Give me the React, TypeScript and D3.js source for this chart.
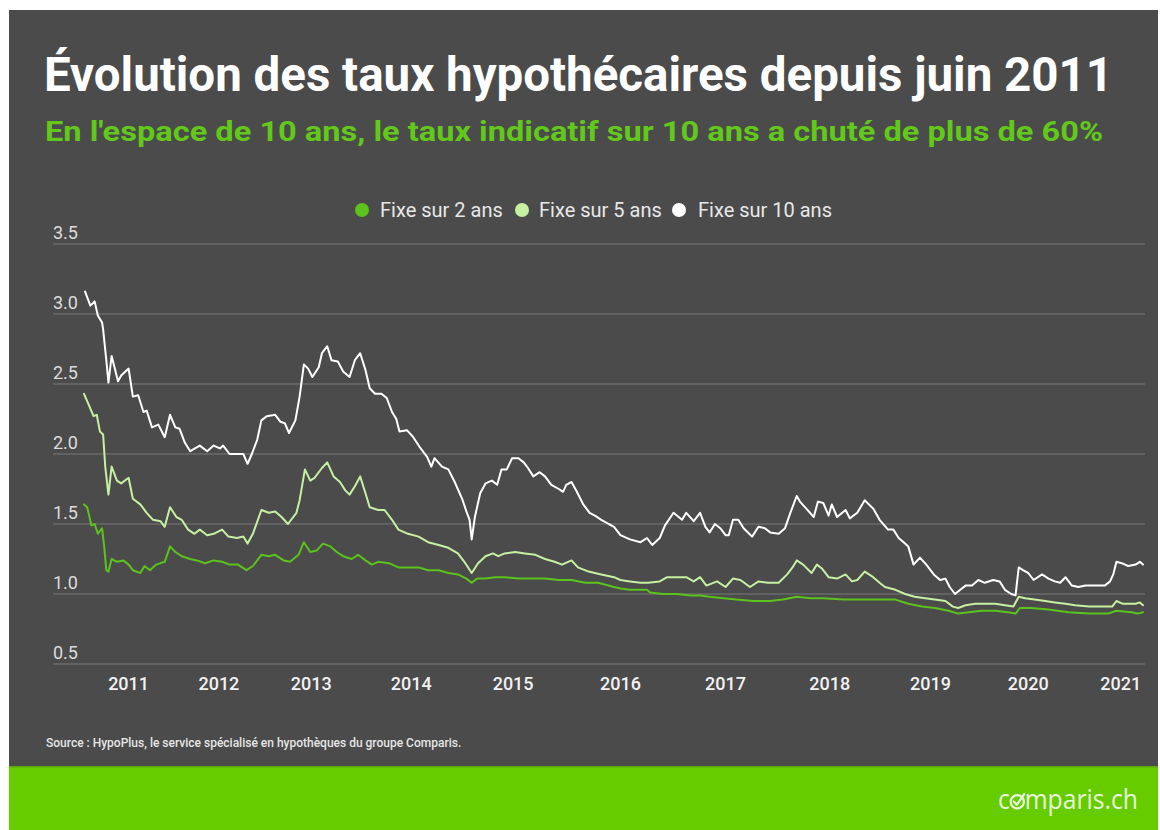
import React, { useRef, useLayoutEffect, useState } from 'react';
import * as d3 from 'd3';

// ---------- DATA ----------
const seriesNames = ['Fixe sur 2 ans', 'Fixe sur 5 ans', 'Fixe sur 10 ans'];
const seriesColors = ['#5cc21c', '#c6f0a2', '#ffffff'];

const yTicks = [0.5, 1.0, 1.5, 2.0, 2.5, 3.0, 3.5];
const xTickLabels = ['2011', '2012', '2013', '2014', '2015', '2016', '2017', '2018', '2019', '2020', '2021'];
// decimal-year positions where the year labels sit
const xTickPositions = [2011.84, 2012.69, 2013.56, 2014.5, 2015.46, 2016.47, 2017.46, 2018.44, 2019.39, 2020.31, 2021.18];

// [decimal year, rate %]
const fixe2: [number, number][] = [
  [2011.42, 1.64], [2011.45, 1.62], [2011.49, 1.49], [2011.52, 1.5], [2011.55, 1.43], [2011.59, 1.47],
  [2011.61, 1.34], [2011.63, 1.17], [2011.65, 1.16], [2011.68, 1.25], [2011.73, 1.23], [2011.79, 1.24],
  [2011.84, 1.21], [2011.88, 1.17], [2011.95, 1.15], [2011.99, 1.2], [2012.04, 1.17], [2012.1, 1.21],
  [2012.18, 1.23], [2012.23, 1.34], [2012.28, 1.3], [2012.34, 1.27], [2012.42, 1.25], [2012.48, 1.24],
  [2012.56, 1.22], [2012.64, 1.24], [2012.72, 1.23], [2012.79, 1.21], [2012.87, 1.21], [2012.95, 1.17],
  [2013.01, 1.2], [2013.09, 1.28], [2013.16, 1.27], [2013.22, 1.28], [2013.3, 1.24], [2013.36, 1.23],
  [2013.44, 1.28], [2013.49, 1.37], [2013.55, 1.3], [2013.61, 1.31], [2013.67, 1.36], [2013.74, 1.34],
  [2013.8, 1.3], [2013.86, 1.27], [2013.94, 1.25], [2014.0, 1.28], [2014.07, 1.24], [2014.13, 1.21],
  [2014.19, 1.23], [2014.29, 1.22], [2014.38, 1.19], [2014.47, 1.19], [2014.57, 1.19], [2014.66, 1.17],
  [2014.76, 1.17], [2014.85, 1.15], [2014.94, 1.14], [2015.02, 1.11], [2015.07, 1.08], [2015.12, 1.11],
  [2015.2, 1.11], [2015.29, 1.12], [2015.38, 1.12], [2015.51, 1.11], [2015.64, 1.11], [2015.76, 1.11],
  [2015.89, 1.1], [2016.01, 1.1], [2016.14, 1.08], [2016.26, 1.08], [2016.41, 1.05], [2016.47, 1.04],
  [2016.56, 1.03], [2016.72, 1.03], [2016.75, 1.01], [2016.87, 1.0], [2017.0, 1.0], [2017.13, 0.99],
  [2017.22, 0.99], [2017.31, 0.98], [2017.44, 0.97], [2017.56, 0.96], [2017.72, 0.95], [2017.88, 0.95],
  [2018.0, 0.96], [2018.13, 0.98], [2018.26, 0.97], [2018.38, 0.97], [2018.57, 0.96], [2018.76, 0.96],
  [2018.91, 0.96], [2019.06, 0.96], [2019.18, 0.93], [2019.31, 0.91], [2019.43, 0.9], [2019.56, 0.88],
  [2019.65, 0.86], [2019.75, 0.87], [2019.87, 0.88], [2020.0, 0.88], [2020.12, 0.87], [2020.19, 0.86],
  [2020.23, 0.9], [2020.34, 0.9], [2020.5, 0.89], [2020.69, 0.87], [2020.88, 0.86], [2021.06, 0.86],
  [2021.14, 0.88], [2021.28, 0.87], [2021.34, 0.86], [2021.39, 0.87],
];

const fixe5: [number, number][] = [
  [2011.42, 2.43], [2011.46, 2.36], [2011.51, 2.27], [2011.54, 2.28], [2011.57, 2.16], [2011.6, 2.14],
  [2011.62, 1.91], [2011.65, 1.71], [2011.68, 1.91], [2011.73, 1.81], [2011.77, 1.79], [2011.84, 1.83],
  [2011.88, 1.68], [2011.95, 1.64], [2012.01, 1.58], [2012.07, 1.53], [2012.14, 1.52], [2012.18, 1.48],
  [2012.23, 1.62], [2012.29, 1.55], [2012.34, 1.53], [2012.4, 1.46], [2012.46, 1.43], [2012.51, 1.46],
  [2012.58, 1.42], [2012.64, 1.43], [2012.72, 1.46], [2012.78, 1.41], [2012.86, 1.4], [2012.92, 1.41],
  [2012.96, 1.36], [2013.01, 1.43], [2013.09, 1.6], [2013.16, 1.58], [2013.22, 1.59], [2013.28, 1.55],
  [2013.34, 1.5], [2013.42, 1.58], [2013.45, 1.67], [2013.5, 1.89], [2013.55, 1.81], [2013.59, 1.83],
  [2013.66, 1.9], [2013.71, 1.94], [2013.77, 1.84], [2013.83, 1.8], [2013.88, 1.74], [2013.92, 1.71],
  [2013.97, 1.77], [2014.02, 1.84], [2014.07, 1.72], [2014.11, 1.62], [2014.19, 1.6], [2014.25, 1.6],
  [2014.32, 1.53], [2014.38, 1.46], [2014.47, 1.43], [2014.57, 1.41], [2014.66, 1.37], [2014.76, 1.35],
  [2014.85, 1.33], [2014.94, 1.29], [2015.01, 1.22], [2015.07, 1.15], [2015.13, 1.22], [2015.2, 1.27],
  [2015.27, 1.29], [2015.32, 1.27], [2015.38, 1.29], [2015.48, 1.3], [2015.57, 1.29], [2015.67, 1.28],
  [2015.76, 1.25], [2015.85, 1.23], [2015.92, 1.21], [2016.01, 1.24], [2016.07, 1.19], [2016.17, 1.16],
  [2016.29, 1.14], [2016.41, 1.12], [2016.47, 1.1], [2016.56, 1.09], [2016.66, 1.08], [2016.73, 1.08],
  [2016.84, 1.09], [2016.91, 1.12], [2017.0, 1.12], [2017.09, 1.12], [2017.16, 1.09], [2017.22, 1.12],
  [2017.28, 1.06], [2017.38, 1.09], [2017.46, 1.05], [2017.53, 1.11], [2017.6, 1.1], [2017.69, 1.05],
  [2017.77, 1.09], [2017.86, 1.08], [2017.96, 1.08], [2018.04, 1.14], [2018.09, 1.19], [2018.13, 1.24],
  [2018.19, 1.21], [2018.27, 1.15], [2018.32, 1.21], [2018.37, 1.18], [2018.43, 1.12], [2018.51, 1.11],
  [2018.59, 1.14], [2018.65, 1.09], [2018.7, 1.1], [2018.77, 1.16], [2018.85, 1.12], [2018.91, 1.08],
  [2018.96, 1.05], [2019.06, 1.03], [2019.15, 1.0], [2019.24, 0.98], [2019.34, 0.97], [2019.43, 0.96],
  [2019.53, 0.95], [2019.6, 0.91], [2019.65, 0.9], [2019.72, 0.92], [2019.81, 0.93], [2019.9, 0.93],
  [2020.0, 0.93], [2020.09, 0.92], [2020.17, 0.91], [2020.22, 0.98], [2020.28, 0.97], [2020.37, 0.96],
  [2020.47, 0.95], [2020.56, 0.94], [2020.66, 0.93], [2020.75, 0.92], [2020.88, 0.91], [2021.0, 0.91],
  [2021.1, 0.91], [2021.14, 0.95], [2021.2, 0.93], [2021.32, 0.93], [2021.36, 0.94], [2021.39, 0.92],
];

const fixe10: [number, number][] = [
  [2011.43, 3.16], [2011.48, 3.06], [2011.52, 3.09], [2011.55, 2.99], [2011.59, 2.94], [2011.6, 2.89],
  [2011.63, 2.67], [2011.65, 2.51], [2011.68, 2.7], [2011.71, 2.61], [2011.74, 2.52], [2011.77, 2.56],
  [2011.84, 2.61], [2011.88, 2.41], [2011.93, 2.42], [2011.98, 2.3], [2012.01, 2.31], [2012.06, 2.19],
  [2012.12, 2.21], [2012.18, 2.12], [2012.23, 2.28], [2012.28, 2.19], [2012.32, 2.18], [2012.37, 2.08],
  [2012.42, 2.02], [2012.51, 2.06], [2012.58, 2.02], [2012.64, 2.06], [2012.7, 2.04], [2012.73, 2.06],
  [2012.79, 2.0], [2012.86, 2.0], [2012.92, 2.0], [2012.96, 1.93], [2013.0, 2.0], [2013.05, 2.1],
  [2013.09, 2.24], [2013.14, 2.27], [2013.22, 2.28], [2013.27, 2.23], [2013.31, 2.22], [2013.35, 2.15],
  [2013.41, 2.24], [2013.45, 2.41], [2013.49, 2.64], [2013.53, 2.61], [2013.57, 2.55], [2013.63, 2.62],
  [2013.66, 2.72], [2013.71, 2.77], [2013.75, 2.67], [2013.81, 2.66], [2013.86, 2.59], [2013.92, 2.55],
  [2013.97, 2.67], [2014.02, 2.72], [2014.07, 2.6], [2014.11, 2.47], [2014.16, 2.43], [2014.22, 2.43],
  [2014.27, 2.4], [2014.32, 2.3], [2014.36, 2.25], [2014.39, 2.16], [2014.46, 2.17], [2014.52, 2.12],
  [2014.58, 2.05], [2014.65, 1.98], [2014.69, 1.91], [2014.72, 1.97], [2014.79, 1.91], [2014.85, 1.89],
  [2014.91, 1.8], [2014.98, 1.68], [2015.02, 1.59], [2015.05, 1.53], [2015.07, 1.39], [2015.1, 1.55],
  [2015.15, 1.72], [2015.2, 1.79], [2015.26, 1.81], [2015.31, 1.78], [2015.35, 1.89], [2015.4, 1.89],
  [2015.45, 1.97], [2015.51, 1.97], [2015.56, 1.94], [2015.6, 1.9], [2015.65, 1.84], [2015.71, 1.87],
  [2015.76, 1.84], [2015.82, 1.78], [2015.89, 1.75], [2015.93, 1.73], [2015.96, 1.78], [2016.01, 1.8],
  [2016.06, 1.73], [2016.12, 1.64], [2016.18, 1.58], [2016.23, 1.56], [2016.29, 1.53], [2016.36, 1.5],
  [2016.41, 1.48], [2016.47, 1.42], [2016.56, 1.39], [2016.66, 1.37], [2016.72, 1.4], [2016.77, 1.35],
  [2016.84, 1.4], [2016.89, 1.49], [2016.97, 1.58], [2017.05, 1.53], [2017.09, 1.58], [2017.16, 1.52],
  [2017.22, 1.58], [2017.27, 1.48], [2017.31, 1.44], [2017.36, 1.5], [2017.41, 1.47], [2017.46, 1.42],
  [2017.49, 1.42], [2017.53, 1.53], [2017.58, 1.53], [2017.63, 1.47], [2017.71, 1.41], [2017.77, 1.48],
  [2017.83, 1.47], [2017.88, 1.44], [2017.96, 1.43], [2018.02, 1.47], [2018.07, 1.58], [2018.13, 1.7],
  [2018.16, 1.66], [2018.22, 1.61], [2018.29, 1.55], [2018.33, 1.66], [2018.38, 1.65], [2018.43, 1.56],
  [2018.46, 1.64], [2018.51, 1.55], [2018.59, 1.6], [2018.63, 1.54], [2018.7, 1.58], [2018.77, 1.67],
  [2018.85, 1.61], [2018.91, 1.53], [2018.99, 1.46], [2019.04, 1.46], [2019.09, 1.4], [2019.15, 1.36],
  [2019.18, 1.34], [2019.23, 1.21], [2019.29, 1.26], [2019.35, 1.21], [2019.42, 1.14], [2019.48, 1.1],
  [2019.53, 1.11], [2019.57, 1.05], [2019.62, 1.0], [2019.67, 1.03], [2019.72, 1.06], [2019.78, 1.06],
  [2019.84, 1.1], [2019.9, 1.08], [2019.98, 1.1], [2020.04, 1.09], [2020.09, 1.03], [2020.15, 1.0],
  [2020.19, 0.99], [2020.22, 1.19], [2020.26, 1.17], [2020.31, 1.15], [2020.36, 1.1], [2020.44, 1.14],
  [2020.5, 1.11], [2020.56, 1.09], [2020.61, 1.08], [2020.66, 1.12], [2020.72, 1.06], [2020.78, 1.05],
  [2020.85, 1.06], [2020.94, 1.06], [2021.03, 1.06], [2021.08, 1.09], [2021.11, 1.14], [2021.14, 1.23],
  [2021.19, 1.22], [2021.25, 1.2], [2021.32, 1.21], [2021.36, 1.23], [2021.39, 1.21],
];

const allSeries = [fixe2, fixe5, fixe10];

const titleText = 'Évolution des taux hypothécaires depuis juin 2011';
const subtitleText = "En l'espace de 10 ans, le taux indicatif sur 10 ans a chuté de plus de 60%";
const sourceText = 'Source : HypoPlus, le service spécialisé en hypothèques du groupe Comparis.';
const logoText = 'comparis.ch';

// ---------- LAYOUT ----------
const W = 1160;
const H = 830;
const FONT = 'Roboto, "Noto Sans", Arial, sans-serif';
const BG = '#4b4b4b';
const GREEN = '#66cc00';

const x = d3.scaleLinear().domain([2011.42, 2021.39]).range([84, 1143]);
const y = d3.scaleLinear().domain([0.5, 3.5]).range([664, 244]);

const lineGen = d3
  .line<[number, number]>()
  .x((d) => x(d[0]))
  .y((d) => y(d[1]))
  .curve(d3.curveLinear);

const legendItems = [
  { cx: 362, tx: 380 },
  { cx: 522, tx: 539 },
  { cx: 679, tx: 698 },
];

export default function App() {
  const logoRef = useRef<SVGTextElement>(null);
  const [oBox, setOBox] = useState<{ x: number; w: number } | null>(null);

  useLayoutEffect(() => {
    const el = logoRef.current;
    if (!el) return;
    try {
      const ext = el.getExtentOfChar(1);
      setOBox({ x: ext.x, w: ext.width });
    } catch (e) {
      setOBox(null);
    }
  }, []);

  const fmt = d3.format('.1f');

  return (
    <svg
      width={W}
      height={H}
      viewBox={`0 0 ${W} ${H}`}
      style={{ position: 'absolute', left: 0, top: 0, background: '#ffffff' }}
      fontFamily={FONT}
    >
      <rect x={0} y={0} width={W} height={H} fill="#ffffff" />
      <rect x={9} y={10} width={1149} height={756} fill={BG} />
      <rect x={9} y={766} width={1149} height={64} fill={GREEN} />
      <rect x={9} y={766} width={1149} height={1.5} fill="#5aa80a" />

      {/* Title */}
      <text x={44} y={91} fill="#ffffff" fontSize={48} fontWeight={700} textLength={1069} lengthAdjust="spacingAndGlyphs">
        {titleText}
      </text>
      <text x={45} y={141} fill="#62c81a" fontSize={28.5} fontWeight={700} textLength={1058} lengthAdjust="spacingAndGlyphs">
        {subtitleText}
      </text>

      {/* Legend */}
      {seriesNames.map((name, i) => (
        <g key={name}>
          <circle cx={legendItems[i].cx} cy={210} r={7} fill={seriesColors[i]} />
          <text x={legendItems[i].tx} y={216.5} fill="#e8e8e8" fontSize={20}>
            {name}
          </text>
        </g>
      ))}

      {/* Grid + y labels */}
      {yTicks.map((t) => (
        <g key={t}>
          <line x1={53} x2={1145} y1={y(t)} y2={y(t)} stroke="#7a7a7a" strokeWidth={1} />
          <text x={53} y={y(t) - 5} fill="#dcdcdc" fontSize={18}>
            {fmt(t)}
          </text>
        </g>
      ))}

      {/* X labels */}
      {xTickLabels.map((lab, i) => (
        <text key={lab} x={x(xTickPositions[i])} y={690} textAnchor="middle" fill="#f2f2f2" fontSize={18} fontWeight={500}>
          {lab}
        </text>
      ))}

      {/* Lines */}
      {allSeries.map((s, i) => (
        <path
          key={seriesNames[i]}
          d={lineGen(s) || ''}
          fill="none"
          stroke={seriesColors[i]}
          strokeWidth={2}
          strokeLinejoin="round"
          strokeLinecap="round"
        />
      ))}

      {/* Source */}
      <text x={46} y={747} fill="#e6e6e6" fontSize={12} fontWeight={500}>
        {sourceText}
      </text>

      {/* Logo */}
      <text
        ref={logoRef}
        x={998}
        y={809}
        fill="#e9f6dc"
        fontSize={27}
        fontFamily='"Open Sans", "Noto Sans", sans-serif'
        textLength={140}
        lengthAdjust="spacingAndGlyphs"
      >
        <tspan>c</tspan>
        <tspan fillOpacity={0}>o</tspan>
        <tspan>mparis.ch</tspan>
      </text>
      {oBox && (
        <g stroke="#e9f6dc" fill="none" strokeWidth={2.2} strokeLinecap="round" strokeLinejoin="round">
          <circle cx={oBox.x + oBox.w / 2} cy={809 - 7.2} r={6.6} />
          <path
            d={`M ${oBox.x + oBox.w / 2 - 3.5} ${809 - 7.5} L ${oBox.x + oBox.w / 2 - 0.5} ${809 - 4.2} L ${oBox.x + oBox.w / 2 + 7} ${809 - 15}`}
          />
        </g>
      )}
    </svg>
  );
}
